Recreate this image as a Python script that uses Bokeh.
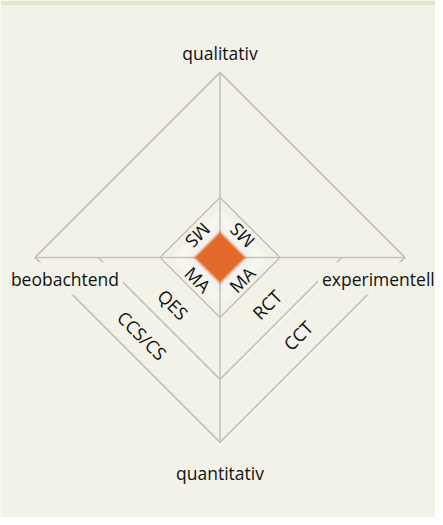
import numpy as np
from bokeh.plotting import figure
from bokeh.models import Range1d, ColumnDataSource
from bokeh.embed import file_html
from bokeh.resources import INLINE
from bokeh.core.properties import value

# ---- data ----
axis_labels = ["qualitativ", "experimentell", "quantitativ", "beobachtend"]
level_names = ["outer", "middle", "inner", "core"]
level_radii = [185, 122, 60, 25]
study_labels = ["MS", "MS", "MA", "MA", "QES", "RCT", "CCS/CS", "CCT"]
study_quadrants = ["UL", "UR", "LL", "LR", "LL", "LR", "LL", "LR"]
study_levels = [22, 22, 22, 22, 47, 47, 78, 78]

BG = "#f3f2e8"
LINE = "#c6c4ba"
FONT = "Open Sans"

R = dict(zip(level_names, level_radii))

p = figure(width=435, height=517,
           x_range=Range1d(-219.5, 215.5), y_range=Range1d(-260, 252),
           output_backend="svg", toolbar_location=None,
           x_axis_location=None, y_axis_location=None,
           min_border_left=0, min_border_right=0, min_border_bottom=0, min_border_top=5,
           background_fill_color=BG, border_fill_color="#dfe6c9",
           outline_line_color=None)
p.grid.grid_line_color = None


def diamond(r):
    return [0, r, 0, -r, 0], [r, 0, -r, 0, r]

# inner light halo
hx, hy = diamond(R["inner"] * 0.8)
p.patch(hx, hy, fill_color="#f8f8f4", fill_alpha=0.6, line_color=None)
hx, hy = diamond(R["inner"] * 0.6)
p.patch(hx, hy, fill_color="#eff2f1", fill_alpha=0.6, line_color=None)

# embossed highlight on lower lines
ro, rm = R["outer"], R["middle"]
p.multi_line([[-ro, 0, ro], [-rm, 0, rm]],
             [[-2, -ro - 2, -2], [-2, -rm - 2, -2]],
             line_color="#ffffff", line_width=2, line_alpha=0.9)

# axes lines
p.multi_line([[0, 0], [-ro, ro]], [[ro, -ro], [0, 0]], line_color=LINE, line_width=1.6)

# outer diamond
ox, oy = diamond(ro)
p.line(ox, oy, line_color=LINE, line_width=1.8)
# middle V (lower half only)
p.line([-rm, 0, rm], [0, -rm, 0], line_color=LINE, line_width=1.8)
# inner diamond
ix, iy = diamond(R["inner"])
p.line(ix, iy, line_color=LINE, line_width=1.6)

# orange core with soft edges
rc = R["core"]
for scale, alpha in [(1.12, 0.18), (1.06, 0.35), (1.0, 0.6), (0.94, 1.0)]:
    cx, cy = diamond(rc * scale)
    p.patch(cx, cy, fill_color="#e2692a", fill_alpha=alpha, line_color=None)

# study labels
sign = {"UL": (-1, 1), "UR": (1, 1), "LL": (-1, -1), "LR": (1, -1)}
angle = {"UL": -3 * np.pi / 4, "UR": 3 * np.pi / 4, "LL": -np.pi / 4, "LR": np.pi / 4}
src = ColumnDataSource(dict(
    x=[sign[q][0] * d for q, d in zip(study_quadrants, study_levels)],
    y=[sign[q][1] * d for q, d in zip(study_quadrants, study_levels)],
    t=study_labels,
    a=[angle[q] for q in study_quadrants],
))
p.text("x", "y", text="t", angle="a", source=src, text_align="center",
       text_baseline="middle", text_font=value(FONT), text_font_size="18px",
       text_color="#111111")

# axis labels
p.text([0], [ro + 20], text=[axis_labels[0]], text_align="center", text_baseline="middle",
       text_font=value(FONT), text_font_size="17.5px", text_color="#111111")
p.text([0], [-ro - 30], text=[axis_labels[2]], text_align="center", text_baseline="middle",
       text_font=value(FONT), text_font_size="17.5px", text_color="#111111")
p.text([-97], [-21], text=[axis_labels[3]], text_align="right", text_baseline="middle",
       text_font=value(FONT), text_font_size="17.5px", text_color="#111111",
       background_fill_color=BG, padding=4)
p.text([98], [-21], text=[axis_labels[1]], text_align="left", text_baseline="middle",
       text_font=value(FONT), text_font_size="17.5px", text_color="#111111",
       background_fill_color=BG, padding=4)

open("out.html", "w").write(file_html(p, INLINE))
